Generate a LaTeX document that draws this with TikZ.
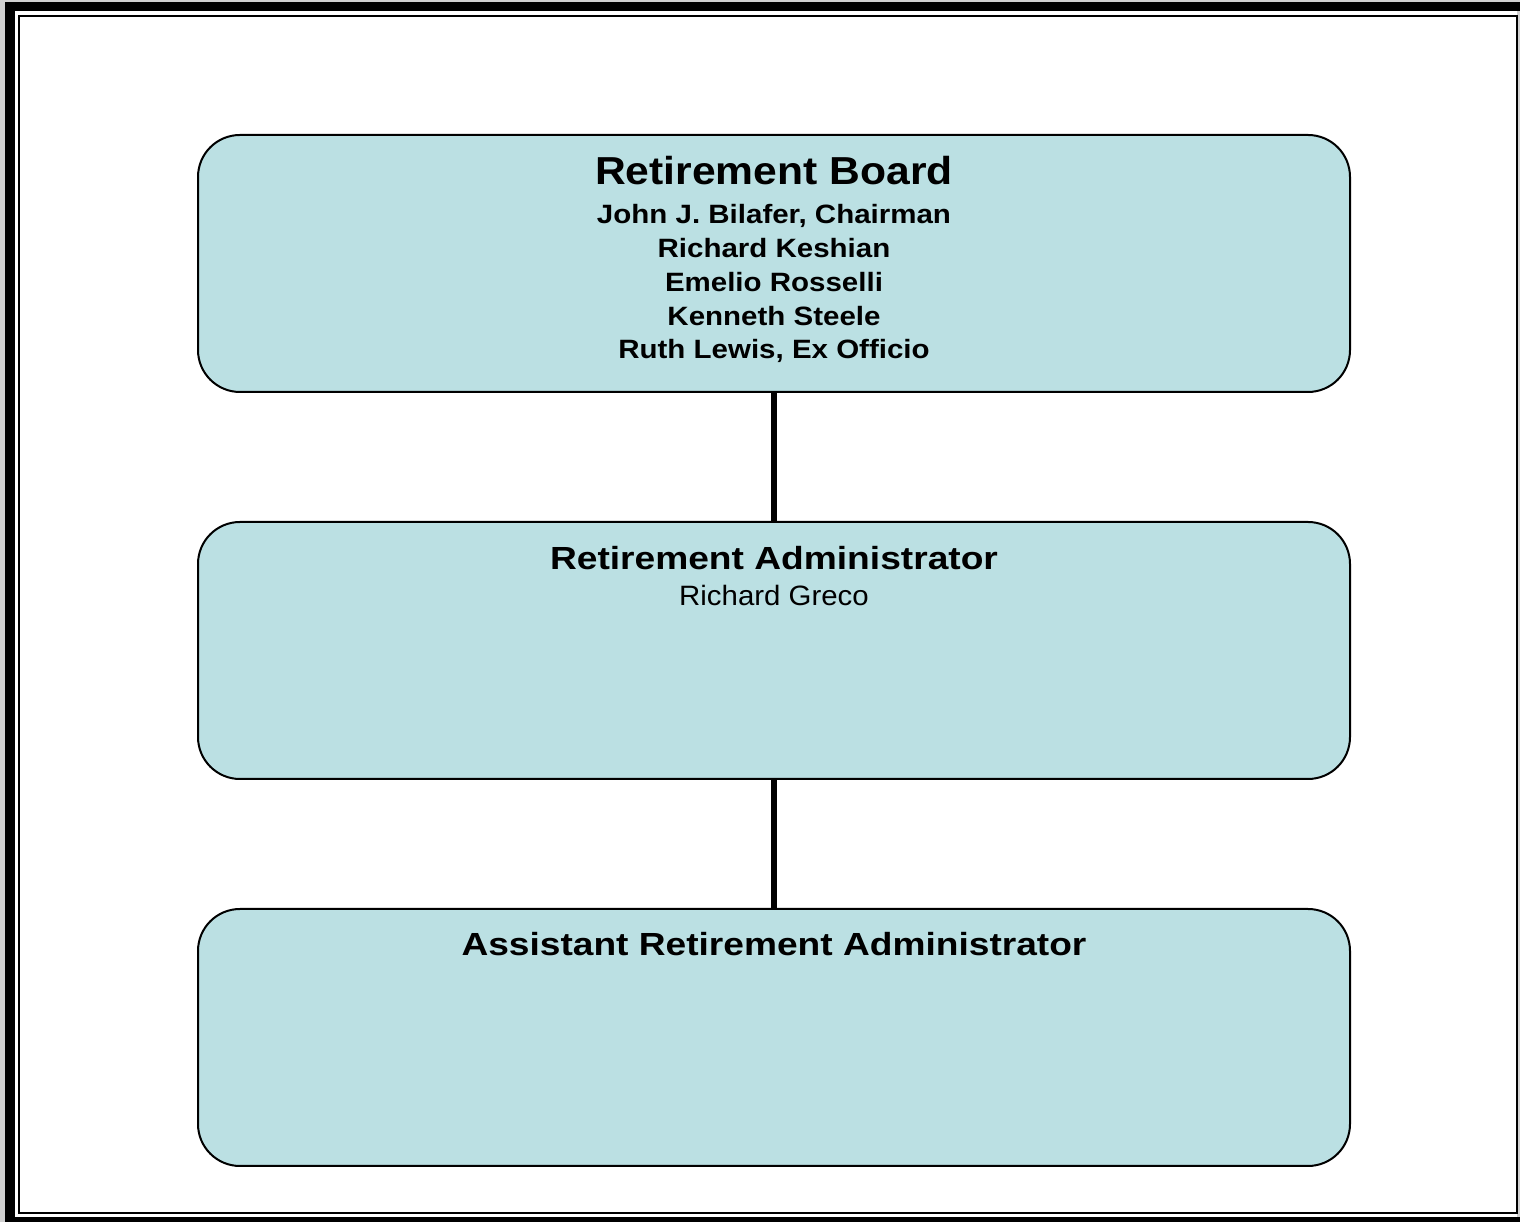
\documentclass[tikz,border=0pt]{standalone}
\usepackage{graphicx}
\usepackage{fontspec}
\setmainfont{Liberation Sans}
\definecolor{boxfill}{HTML}{BBE0E3}
\definecolor{pagegrey}{HTML}{D0D0D0}
\newcommand{\hstretch}[2]{\scalebox{#1}[1]{#2}}
\begin{document}
\begin{tikzpicture}[x=1pt,y=1pt,
  orgbox/.style={draw=black, line width=2pt, fill=boxfill, rounded corners=42pt,
    minimum width=1152pt, minimum height=257pt, inner sep=0pt, outer sep=0pt},
  link/.style={line width=6pt, black},
  txt/.style={anchor=base, inner sep=0pt},
  title/.style={txt, font=\fontsize{39}{47}\selectfont\bfseries},
  subtitle/.style={txt, font=\fontsize{32}{38}\selectfont\bfseries},
  member/.style={txt, font=\fontsize{26.5}{32}\selectfont\bfseries},
  plain/.style={txt, font=\fontsize{28}{34}\selectfont}
]
% page frame
\fill[pagegrey] (0,0) rectangle (1520,1222);
\fill[white] (5,5) rectangle (1517,1220);
\fill[black] (5,0) rectangle (15,1220);
\fill[black] (5,1211) rectangle (1520,1220);
\fill[black] (5,0) rectangle (1520,5);
\draw[line width=2pt] (19,9) rectangle (1516.5,1206);
\useasboundingbox (0,0) rectangle (1520,1222);

% boxes
\node[orgbox] (board) at (774,958.5) {};
\node[orgbox] (admin) at (774,571.5) {};
\node[orgbox] (asst) at (774,184.5) {};

% connectors
\draw[link] (board.south) -- (admin.north);
\draw[link] (admin.south) -- (asst.north);

% texts
\node[title] (t1) at (774,1037) {\hstretch{1.093}{Retirement Board}};
\node[member] (m1) at (774,998) {\hstretch{1.113}{John J. Bilafer, Chairman}};
\node[member] (m2) at (774,964) {\hstretch{1.113}{Richard Keshian}};
\node[member] (m3) at (774,930) {\hstretch{1.113}{Emelio Rosselli}};
\node[member] (m4) at (774,896) {\hstretch{1.113}{Kenneth Steele}};
\node[member] (m5) at (774,863) {\hstretch{1.113}{Ruth Lewis, Ex Officio}};

\node[subtitle] (t2) at (774,652) {\hstretch{1.161}{Retirement Administrator}};
\node[plain] (n2) at (774,616) {\hstretch{1.05}{Richard Greco}};

\node[subtitle] (t3) at (774,266) {\hstretch{1.16}{Assistant Retirement Administrator}};
\end{tikzpicture}
\end{document}
